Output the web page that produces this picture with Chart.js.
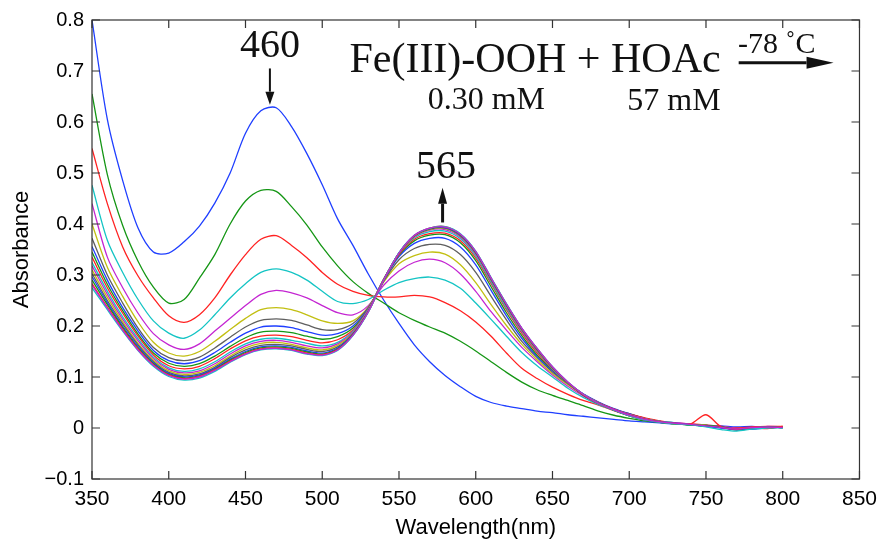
<!DOCTYPE html>
<html lang="en">
<head>
<meta charset="utf-8">
<title>Fe(III)-OOH + HOAc</title>
<script src="https://cdn.jsdelivr.net/npm/chart.js@4.4.1/dist/chart.umd.min.js"></script>
<style>
  body { margin: 0; background: #fff; }
</style>
</head>
<body>
<canvas id="myChart" width="885" height="541"></canvas>
<script>
// wavelengths (nm), one value every 10 nm
var wavelengths = [350,360,370,380,390,400,410,420,430,440,450,460,470,480,490,500,510,520,530,540,550,
                   560,570,580,590,600,610,620,630,640,650,660,670,680,690,700,710,720,730,740,750,760,770,780,790,800];

// spectra in order of acquisition (absorbance)
var s01 = [0.800,0.605,0.485,0.392,0.345,0.343,0.365,0.396,0.441,0.500,0.578,0.622,0.628,0.591,0.538,0.477,0.410,0.358,0.302,0.251,0.205,0.163,0.130,0.103,0.081,0.062,0.050,0.043,0.038,0.033,0.030,0.026,0.023,0.020,0.017,0.014,0.012,0.010,0.008,0.007,0.005,0.004,0.002,0.003,0.001,0.002];
var s02 = [0.655,0.497,0.397,0.327,0.276,0.245,0.252,0.294,0.340,0.400,0.445,0.466,0.464,0.434,0.398,0.355,0.318,0.287,0.264,0.245,0.226,0.211,0.198,0.186,0.170,0.151,0.130,0.109,0.090,0.075,0.064,0.054,0.044,0.033,0.025,0.019,0.014,0.011,0.008,0.006,0.004,0.001,-0.002,0.000,0.001,0.002];
var s03 = [0.548,0.440,0.355,0.298,0.255,0.220,0.207,0.222,0.255,0.300,0.340,0.370,0.377,0.358,0.334,0.305,0.282,0.268,0.260,0.257,0.257,0.260,0.257,0.246,0.230,0.208,0.180,0.147,0.117,0.097,0.080,0.066,0.054,0.045,0.034,0.024,0.016,0.012,0.009,0.007,0.005,0.002,-0.001,0.001,0.002,0.001];
var s04 = [0.476,0.368,0.305,0.252,0.210,0.186,0.176,0.192,0.222,0.255,0.283,0.305,0.312,0.305,0.290,0.268,0.248,0.244,0.252,0.270,0.285,0.293,0.296,0.290,0.274,0.245,0.213,0.180,0.148,0.122,0.100,0.078,0.060,0.046,0.035,0.025,0.018,0.012,0.009,0.007,0.004,0.002,-0.002,0.000,0.002,0.001];
var s05 = [0.440,0.335,0.275,0.225,0.185,0.163,0.154,0.165,0.190,0.215,0.240,0.262,0.270,0.265,0.255,0.240,0.226,0.222,0.240,0.280,0.308,0.325,0.331,0.324,0.302,0.268,0.228,0.192,0.158,0.130,0.104,0.082,0.063,0.048,0.036,0.027,0.019,0.013,0.009,0.006,0.005,0.002,-0.002,0.001,0.001,0.002];
var s06 = [0.400,0.315,0.258,0.208,0.168,0.147,0.141,0.150,0.170,0.193,0.215,0.232,0.236,0.232,0.222,0.210,0.205,0.210,0.237,0.286,0.322,0.338,0.345,0.341,0.320,0.285,0.242,0.201,0.164,0.134,0.107,0.085,0.065,0.050,0.037,0.027,0.019,0.013,0.009,0.007,0.004,0.001,-0.002,0.000,0.002,0.002];
var s07 = [0.372,0.300,0.245,0.196,0.158,0.138,0.132,0.139,0.157,0.178,0.198,0.211,0.214,0.211,0.202,0.193,0.193,0.205,0.236,0.288,0.330,0.352,0.360,0.358,0.340,0.305,0.258,0.212,0.170,0.138,0.110,0.087,0.066,0.050,0.037,0.028,0.019,0.013,0.009,0.006,0.004,0.002,-0.003,0.000,0.001,0.002];
var s08 = [0.356,0.290,0.236,0.190,0.152,0.132,0.126,0.132,0.148,0.168,0.186,0.198,0.200,0.197,0.189,0.182,0.185,0.200,0.234,0.290,0.336,0.362,0.372,0.372,0.355,0.320,0.270,0.220,0.176,0.140,0.112,0.088,0.067,0.051,0.038,0.028,0.019,0.013,0.010,0.007,0.004,0.001,-0.002,-0.001,0.001,0.002];
var s09 = [0.345,0.282,0.230,0.184,0.147,0.127,0.121,0.126,0.141,0.160,0.177,0.188,0.190,0.187,0.180,0.174,0.179,0.196,0.232,0.291,0.339,0.367,0.378,0.379,0.363,0.328,0.277,0.226,0.181,0.143,0.114,0.088,0.066,0.049,0.036,0.026,0.018,0.012,0.009,0.006,0.004,0.002,-0.001,0.001,0.000,0.002];
var s10 = [0.335,0.275,0.225,0.180,0.143,0.122,0.116,0.121,0.136,0.155,0.171,0.180,0.182,0.179,0.172,0.167,0.173,0.192,0.233,0.292,0.340,0.370,0.381,0.382,0.367,0.333,0.283,0.232,0.186,0.147,0.115,0.088,0.066,0.050,0.037,0.027,0.020,0.014,0.010,0.008,0.006,0.003,0.000,0.002,0.003,0.003];
var s11 = [0.325,0.268,0.218,0.175,0.139,0.118,0.111,0.116,0.130,0.149,0.165,0.174,0.176,0.172,0.166,0.161,0.168,0.190,0.232,0.292,0.342,0.373,0.385,0.386,0.371,0.337,0.286,0.235,0.189,0.150,0.116,0.088,0.066,0.049,0.036,0.026,0.018,0.013,0.010,0.006,0.005,0.002,-0.002,0.000,0.002,0.001];
var s12 = [0.318,0.262,0.213,0.171,0.136,0.115,0.108,0.112,0.126,0.145,0.161,0.170,0.172,0.168,0.161,0.157,0.165,0.188,0.231,0.291,0.343,0.375,0.388,0.389,0.374,0.340,0.289,0.238,0.190,0.151,0.117,0.089,0.066,0.049,0.036,0.026,0.018,0.012,0.010,0.008,0.004,0.003,-0.001,-0.002,0.003,0.002];
var s13 = [0.310,0.256,0.208,0.166,0.133,0.112,0.105,0.109,0.122,0.141,0.157,0.166,0.168,0.164,0.157,0.153,0.162,0.186,0.230,0.291,0.343,0.376,0.389,0.391,0.376,0.342,0.290,0.239,0.192,0.152,0.118,0.089,0.066,0.048,0.035,0.025,0.017,0.012,0.008,0.007,0.005,0.001,-0.003,0.000,0.001,0.003];
var s14 = [0.303,0.250,0.204,0.163,0.130,0.109,0.102,0.106,0.119,0.138,0.153,0.162,0.164,0.161,0.154,0.150,0.159,0.185,0.229,0.290,0.343,0.377,0.390,0.392,0.377,0.343,0.291,0.240,0.193,0.153,0.118,0.089,0.065,0.048,0.035,0.025,0.017,0.011,0.009,0.006,0.004,0.002,-0.004,-0.001,0.002,0.001];
var s15 = [0.297,0.246,0.200,0.160,0.128,0.107,0.100,0.104,0.117,0.135,0.150,0.159,0.161,0.158,0.151,0.147,0.157,0.184,0.229,0.290,0.343,0.377,0.391,0.393,0.378,0.344,0.292,0.241,0.194,0.154,0.119,0.089,0.065,0.048,0.035,0.025,0.016,0.012,0.009,0.007,0.003,0.000,-0.003,-0.002,0.000,0.002];
var s16 = [0.290,0.242,0.197,0.157,0.126,0.105,0.098,0.102,0.115,0.133,0.148,0.157,0.159,0.156,0.149,0.145,0.155,0.183,0.228,0.290,0.343,0.377,0.391,0.394,0.379,0.345,0.293,0.242,0.195,0.155,0.119,0.089,0.065,0.048,0.035,0.024,0.017,0.012,0.008,0.006,0.005,0.002,-0.002,0.000,0.002,0.001];
var s17 = [0.283,0.237,0.194,0.155,0.124,0.104,0.097,0.101,0.114,0.131,0.146,0.155,0.157,0.154,0.147,0.144,0.154,0.182,0.228,0.290,0.343,0.377,0.392,0.395,0.380,0.346,0.294,0.243,0.195,0.155,0.119,0.089,0.065,0.048,0.035,0.025,0.017,0.012,0.009,0.008,0.026,0.002,-0.002,0.001,-0.001,0.003];
var s18 = [0.275,0.232,0.190,0.152,0.121,0.101,0.094,0.098,0.111,0.129,0.144,0.153,0.155,0.152,0.145,0.142,0.152,0.181,0.227,0.290,0.344,0.378,0.392,0.395,0.381,0.347,0.295,0.244,0.196,0.156,0.120,0.090,0.066,0.048,0.035,0.024,0.016,0.011,0.008,0.006,0.002,-0.003,-0.006,-0.002,0.000,0.000];
var s19 = [0.280,0.235,0.192,0.153,0.123,0.103,0.096,0.100,0.113,0.130,0.145,0.154,0.156,0.153,0.146,0.143,0.153,0.182,0.228,0.290,0.343,0.378,0.392,0.394,0.380,0.346,0.294,0.243,0.196,0.156,0.120,0.090,0.066,0.048,0.036,0.025,0.017,0.012,0.009,0.007,0.004,0.001,-0.002,0.001,0.002,0.001];

var spectra = [s01,s02,s03,s04,s05,s06,s07,s08,s09,s10,s11,s12,s13,s14,s15,s16,s17,s18,s19];

// axis ticks
var xTicks = [350,400,450,500,550,600,650,700,750,800,850];
var yTicks = [-0.1,0,0.1,0.2,0.3,0.4,0.5,0.6,0.7,0.8];
var yTickLabels = ['\u22120.1','0','0.1','0.2','0.3','0.4','0.5','0.6','0.7','0.8'];

// matlab line colour order
var lineColors = ['#1f3fff','#159615','#ff2222','#14c4c4','#c425d2','#c2bf12','#5f5f5f'];

// annotations, placed in data units
var notes = [
    {text: '460', nm: 465.9, a: 0.727, size: 40, align: 'center'},
    {text: '565', nm: 580.6, a: 0.490, size: 40, align: 'center'},
    {text: 'Fe(III)-OOH + HOAc', nm: 517.7, a: 0.698, size: 42, align: 'left'},
    {text: '0.30 mM', nm: 568.7, a: 0.626, size: 32, align: 'left'},
    {text: '57 mM', nm: 698.7, a: 0.624, size: 32, align: 'left'},
    {text: '-78 \u02daC', nm: 770.9, a: 0.736, size: 30, align: 'left'}
];
var arrows = [
    {nm1: 465.9, a1: 0.705, nm2: 465.9, a2: 0.634, lw: 2, head: 13, half: 4.5},
    {nm1: 578.4, a1: 0.403, nm2: 578.4, a2: 0.471, lw: 3, head: 16, half: 4.5},
    {nm1: 771.3, a1: 0.716, nm2: 833.1, a2: 0.716, lw: 3, head: 27, half: 6}
];

function drawArrow(ctx, x1, y1, x2, y2, lw, head, half) {
    var ang = Math.atan2(y2 - y1, x2 - x1);
    var bx = x2 - head * Math.cos(ang), by = y2 - head * Math.sin(ang);
    ctx.lineWidth = lw;
    ctx.beginPath();
    ctx.moveTo(x1, y1);
    ctx.lineTo(bx, by);
    ctx.stroke();
    ctx.beginPath();
    ctx.moveTo(x2, y2);
    ctx.lineTo(bx + half * Math.sin(ang), by - half * Math.cos(ang));
    ctx.lineTo(bx - half * Math.sin(ang), by + half * Math.cos(ang));
    ctx.closePath();
    ctx.fill();
}

// box with inward ticks on all four sides, plus the text notes
var boxPlugin = {
    id: 'box',
    afterDraw: function(chart) {
        var ctx = chart.ctx, a = chart.chartArea;
        var x = chart.scales.x, y = chart.scales.y;
        ctx.save();
        ctx.strokeStyle = '#333';
        ctx.lineWidth = 1.2;
        ctx.strokeRect(a.left, a.top, a.right - a.left, a.bottom - a.top);
        ctx.beginPath();
        x.ticks.forEach(function(t) {
            var px = x.getPixelForValue(t.value);
            ctx.moveTo(px, a.bottom); ctx.lineTo(px, a.bottom - 8);
            ctx.moveTo(px, a.top); ctx.lineTo(px, a.top + 8);
        });
        y.ticks.forEach(function(t) {
            var py = y.getPixelForValue(t.value);
            ctx.moveTo(a.left, py); ctx.lineTo(a.left + 8, py);
            ctx.moveTo(a.right, py); ctx.lineTo(a.right - 8, py);
        });
        ctx.stroke();

        ctx.fillStyle = '#111';
        ctx.strokeStyle = '#111';
        ctx.textBaseline = 'alphabetic';
        notes.forEach(function(n) {
            ctx.font = n.size + 'px "Liberation Serif", "Times New Roman", serif';
            ctx.textAlign = n.align;
            ctx.fillText(n.text, x.getPixelForValue(n.nm), y.getPixelForValue(n.a));
        });
        arrows.forEach(function(r) {
            drawArrow(ctx, x.getPixelForValue(r.nm1), y.getPixelForValue(r.a1),
                      x.getPixelForValue(r.nm2), y.getPixelForValue(r.a2), r.lw, r.head, r.half);
        });
        ctx.restore();
    }
};

var datasets = spectra.map(function(s, i) {
    return {
        data: wavelengths.map(function(w, j) { return {x: w, y: s[j]}; }),
        borderColor: lineColors[i % lineColors.length],
        borderWidth: 1.3,
        pointRadius: 0,
        fill: false,
        tension: 0.3,
        order: -i
    };
});

var ctx = document.getElementById('myChart').getContext('2d');
var myChart = new Chart(ctx, {
    type: 'line',
    data: {datasets: datasets},
    options: {
        responsive: false,
        animation: false,
        events: [],
        layout: {padding: {top: 17, right: 24, bottom: 0, left: 0}},
        plugins: {legend: {display: false}, tooltip: {enabled: false}},
        scales: {
            x: {
                type: 'linear', min: 350, max: 850,
                afterBuildTicks: function(s) { s.ticks = xTicks.map(function(v) { return {value: v}; }); },
                afterFit: function(s) { s.height = 62; },
                grid: {display: false, drawTicks: false},
                border: {display: false},
                ticks: {
                    autoSkip: false, maxRotation: 0, padding: 8, color: '#000',
                    font: {family: '"Liberation Sans", Arial, sans-serif', size: 21},
                    callback: function(v) { return String(v); }
                },
                title: {
                    display: true, text: 'Wavelength(nm)', color: '#000',
                    font: {family: '"Liberation Sans", Arial, sans-serif', size: 22},
                    padding: {top: 0, bottom: 0}
                }
            },
            y: {
                type: 'linear', min: -0.1, max: 0.8,
                afterBuildTicks: function(s) { s.ticks = yTicks.map(function(v) { return {value: v}; }); },
                afterFit: function(s) { s.width = 92; },
                grid: {display: false, drawTicks: false},
                border: {display: false},
                ticks: {
                    autoSkip: false, padding: 8, color: '#000',
                    font: {family: '"Liberation Sans", Arial, sans-serif', size: 20},
                    callback: function(v, i) { return yTickLabels[i]; }
                },
                title: {
                    display: true, text: 'Absorbance', color: '#000',
                    font: {family: '"Liberation Sans", Arial, sans-serif', size: 22},
                    padding: {top: 9, bottom: 0}
                }
            }
        }
    },
    plugins: [boxPlugin]
});
</script>
</body>
</html>
